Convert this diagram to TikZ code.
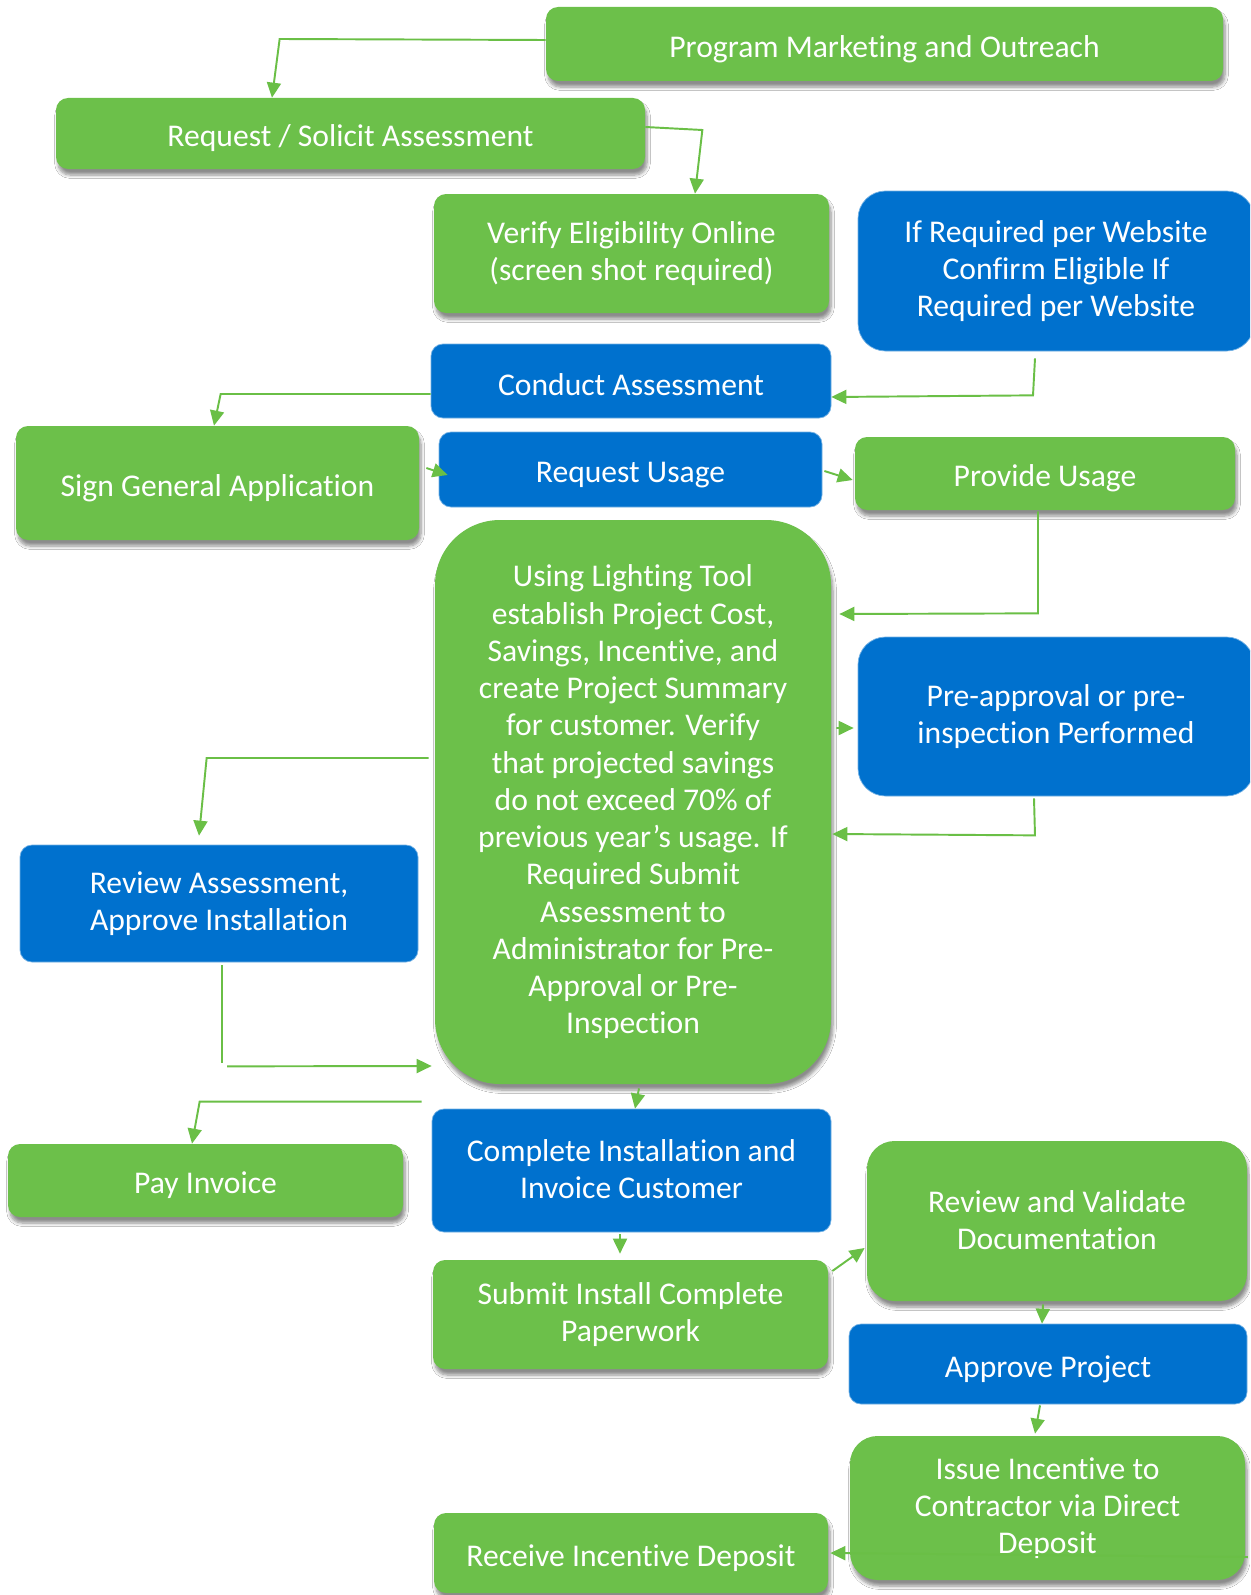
\documentclass[tikz,border=0pt]{standalone}
\usepackage{fontspec}
\setmainfont[RawFeature={-liga;-clig;-dlig}]{Carlito}
\usetikzlibrary{arrows.meta,shadows.blur}
\definecolor{boxgreen}{HTML}{6CC04A}
\definecolor{boxblue}{HTML}{0071CE}
\definecolor{linegreen}{HTML}{6ABF46}
\begin{document}
\begin{tikzpicture}[
        every node/.style={font=\fontsize{18}{21.2}\selectfont, text=white, align=center, inner sep=0pt,
            execute at begin node={\rule{0pt}{18pt}}, execute at end node={\rule[-1.4pt]{0pt}{0pt}}},
        gbox/.style={fill=boxgreen, rounded corners=0.24cm, blur shadow={shadow xshift=0.4mm, shadow yshift=-1.2mm, shadow blur steps=6, shadow opacity=45}},
        bbox/.style={fill=boxblue, draw=boxblue!55!white, line width=0.4pt, rounded corners=0.24cm},
        conn/.style={draw=linegreen, line width=1.1pt, -{Triangle[length=0.3cm,width=0.28cm]}},
        seg/.style={draw=linegreen, line width=1.1pt}
    ]
        \useasboundingbox[fill=white] (0,0) rectangle (25,-31.9);
        \begin{scope}
        \clip (0,0) rectangle (25,-31.9);

        % Boxes
        \node[gbox, minimum width=13.54cm, minimum height=1.48cm] (prog) at (17.69,-0.88) {Program Marketing and Outreach};
        \node[gbox, minimum width=11.78cm, minimum height=1.42cm] (req) at (7.01,-2.67) {Request / Solicit Assessment};
        \node[gbox, minimum width=7.9cm, minimum height=2.38cm] (verify) at (12.63,-5.07) {Verify Eligibility Online\\(screen shot required)};
        \node[bbox, rounded corners=0.55cm, minimum width=7.92cm, minimum height=3.2cm] (ifreq) at (21.12,-5.42) {If Required per Website\\Confirm Eligible If\\Required per Website};
        \node[bbox, minimum width=8cm, minimum height=1.48cm] (conduct) at (12.62,-7.62) {Conduct Assessment};
        \node[gbox, minimum width=8.06cm, minimum height=2.28cm] (sign) at (4.35,-9.66) {Sign General Application};
        \node[bbox, minimum width=7.66cm, minimum height=1.5cm] (requsage) at (12.61,-9.39) {Request Usage};
        \node[gbox, minimum width=7.6cm, minimum height=1.46cm] (provide) at (20.9,-9.47) {Provide Usage};
        \node[gbox, rounded corners=1.3cm, minimum width=7.92cm, minimum height=11.28cm] (tool) at (12.66,-16.04) {Using Lighting Tool\\establish Project Cost,\\Savings, Incentive, and\\create Project Summary\\for customer. Verify\\that projected savings\\do not exceed 70\% of\\previous year’s usage. If\\Required Submit\\Assessment to\\Administrator for Pre-\\Approval or Pre-\\Inspection};
        \node[bbox, rounded corners=0.55cm, minimum width=7.92cm, minimum height=3.18cm] (preapp) at (21.12,-14.33) {Pre-approval or pre-\\inspection Performed};
        \node[bbox, minimum width=7.96cm, minimum height=2.34cm] (review) at (4.38,-18.07) {Review Assessment,\\Approve Installation};
        \node[gbox, minimum width=7.9cm, minimum height=1.46cm] (pay) at (4.11,-23.61) {Pay Invoice};
        \node[bbox, minimum width=7.98cm, minimum height=2.46cm] (complete) at (12.63,-23.41) {Complete Installation and\\Invoice Customer};
        \node[gbox, rounded corners=0.55cm, minimum width=7.6cm, minimum height=3.2cm] (validate) at (21.14,-24.42) {Review and Validate\\Documentation};
        \node[gbox, minimum width=7.9cm, minimum height=2.18cm] (submit) at (12.61,-26.29) {Submit Install Complete\\Paperwork};
        \node[bbox, minimum width=7.96cm, minimum height=1.6cm] (approve) at (20.96,-27.28) {Approve Project};
        \node[gbox, rounded corners=0.55cm, minimum width=7.9cm, minimum height=2.88cm] (issue) at (20.95,-30.16) {Issue Incentive to\\Contractor via Direct\\Deposit};
        \node[gbox, minimum width=7.88cm, minimum height=1.6cm] (receive) at (12.62,-31.06) {Receive Incentive Deposit};

        % Connectors
        \draw[conn] ([yshift=0.8mm]prog.west) -- ++(-5.32,0.02) -- ([xshift=-1.57cm]req.north);
        \draw[conn] ([yshift=1.3mm]req.east) -- ++(1.14,-0.06) -- ([xshift=1.27cm]verify.north);
        \draw[conn] ([xshift=-4.2mm,yshift=-1.4mm]ifreq.south) -- ++(-0.04,-0.74) -- ([yshift=-3.2mm]conduct.east);
        \draw[conn] ([yshift=-2.6mm]conduct.west) -- ++(-4.2,0) -- ([xshift=-0.7mm]sign.north);
        \draw[conn] ([xshift=1.4mm,yshift=3mm]sign.east) -- ([xshift=1.8mm,yshift=-1.1mm]requsage.west);
        \draw[conn] ([xshift=0.4mm,yshift=-0.3mm]requsage.east) -- ([xshift=-0.4mm,yshift=-1.3mm]provide.west);
        \draw[conn] ([xshift=-1.4mm,yshift=-0.2mm]provide.south) -- ++(0,-2.04) -- ([xshift=1.6mm,yshift=3.76cm]tool.east);
        \draw[conn] ([xshift=1mm,yshift=1.48cm]tool.east) -- ([xshift=-0.8mm,yshift=-2.3mm]preapp.west);
        \draw[conn] ([xshift=-4.4mm,yshift=-0.4mm]preapp.south) -- ++(0.02,-0.74) -- ([xshift=0.2mm,yshift=-6.4mm]tool.east);
        \draw[conn] ([xshift=-1.2mm,yshift=8.8mm]tool.west) -- ++(-4.44,0) -- ([xshift=-4mm,yshift=1.8mm]review.north);
        \draw[seg] ([xshift=0.6mm,yshift=-0.6mm]review.south) -- ++(0,-1.96);
        \draw[conn] ([xshift=1.6mm,yshift=-2.08cm]review.south) -- ([xshift=-0.6mm,yshift=-5.28cm]tool.west);
        \draw[conn] ([xshift=1.2mm,yshift=-0.8mm]tool.south) -- ([xshift=0.7mm]complete.north);
        \draw[conn] ([xshift=-2mm,yshift=1.4mm]complete.north west) -- ++(-4.44,0) -- ([xshift=-2.7mm]pay.north);
        \draw[conn] ([xshift=-2.3mm,yshift=-0.4mm]complete.south) -- ([xshift=-2.1mm,yshift=1.2mm]submit.north);
        \draw[conn] ([xshift=0.8mm,yshift=8.7mm]submit.east) -- ([xshift=-0.4mm,yshift=-5.4mm]validate.west);
        \draw[conn] ([xshift=-2.8mm,yshift=-0.6mm]validate.south) -- ([xshift=-1.2mm]approve.north);
        \draw[conn] ([xshift=-1.6mm,yshift=-0.2mm]approve.south) -- ([xshift=-2.5mm,yshift=0.4mm]issue.north);
        \draw[conn] ([xshift=0.5mm,yshift=-9.8mm]issue.east) -- ([xshift=0.4mm]receive.east);
        \end{scope}
    \end{tikzpicture}
\end{document}
